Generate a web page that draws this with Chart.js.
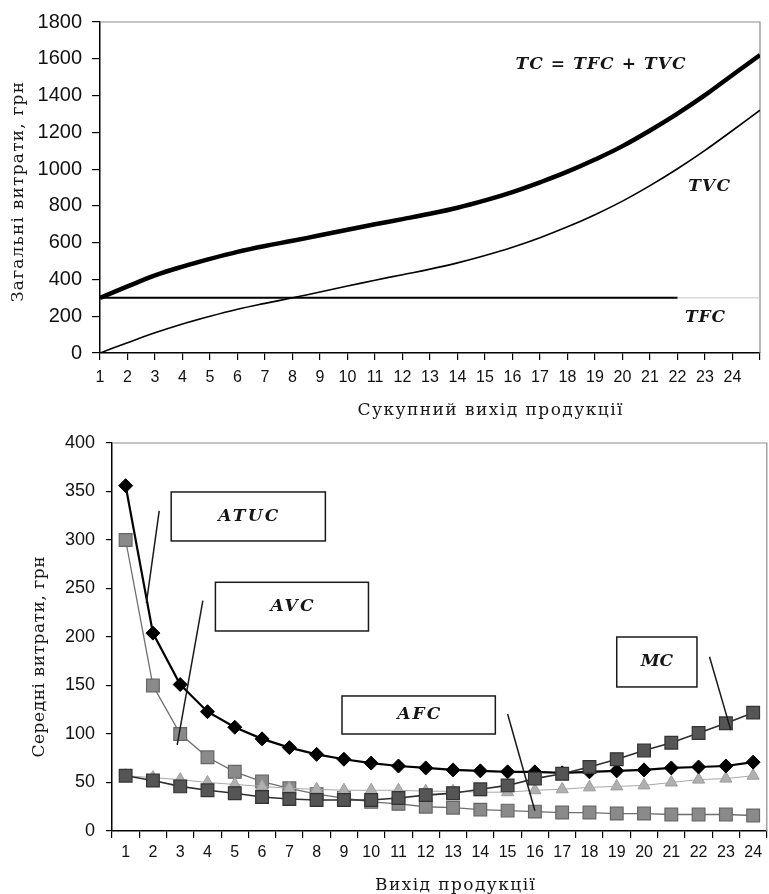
<!DOCTYPE html>
<html>
<head>
<meta charset="utf-8">
<script src="https://cdn.jsdelivr.net/npm/chart.js@4.4.1/dist/chart.umd.min.js"></script>
<style>
    html, body { margin: 0; padding: 0; background: #fff; overflow: hidden; }
    #wrap { position: relative; width: 769px; height: 894px; overflow: hidden; }
    #totalCanvas { position: absolute; left: 0; top: 0; }
    #avgCanvas { position: absolute; left: 0; top: 420px; }
</style>
</head>
<body>
<div id="wrap">
    <canvas id="totalCanvas" width="769" height="420"></canvas>
    <canvas id="avgCanvas" width="777" height="474"></canvas>
</div>
<script>
// --- top chart: total costs ---
const totalQ = [1, 2, 3, 4, 5, 6, 7, 8, 9, 10, 11, 12, 13, 14, 15, 16, 17, 18, 19, 20, 21, 22, 23, 24, 25];
const tvc = [0, 56, 110, 158, 200, 238, 270, 300, 332, 364, 396, 426, 456, 490, 530, 575, 627, 686, 752, 826, 910, 1002, 1102, 1210, 1320];
const tc = [300, 362, 422, 470, 512, 550, 582, 610, 640, 670, 700, 728, 757, 790, 830, 875, 928, 986, 1052, 1125, 1210, 1302, 1402, 1512, 1620];
const tfcQ = [1, 2, 3, 4, 5, 6, 7, 8, 9, 10, 11, 12, 13, 14, 15, 16, 17, 18, 19, 20, 21, 22];
const tfc = [300, 300, 300, 300, 300, 300, 300, 300, 300, 300, 300, 300, 300, 300, 300, 300, 300, 300, 300, 300, 300, 300];
const tfcTailQ = [22, 25];
const tfcTail = [300, 300];

// --- bottom chart: average costs ---
const avgQ = ['1', '2', '3', '4', '5', '6', '7', '8', '9', '10', '11', '12', '13', '14', '15', '16', '17', '18', '19', '20', '21', '22', '23', '24'];
const atc = [356, 204, 151, 123, 107, 95, 86, 79, 74, 70, 67, 65, 63, 62, 61, 61, 60, 61, 62, 63, 65, 66, 67, 71];
const afc = [300, 150, 100, 76, 61, 51, 44, 38, 34, 30, 28, 25, 24, 22, 21, 20, 19, 19, 18, 18, 17, 17, 17, 16];
const avc = [57, 55, 53, 50, 48, 46, 44, 43, 42, 42, 42, 41, 41, 40, 40, 42, 43, 45, 46, 47, 50, 53, 54, 57];
const mc = [57, 52, 46, 42, 39, 35, 33, 32, 32, 32, 34, 37, 39, 43, 47, 54, 59, 66, 74, 83, 91, 101, 111, 122];

const toPoints = (xs, ys) => xs.map((x, i) => ({ x: x, y: ys[i] }));

const TICK_FONT = 'Liberation Sans';
const TITLE_FONT = 'DejaVu Serif';
const NOTE_FONT = 'italic bold 17px ' + TITLE_FONT;

function drawText(ctx, t) {
    ctx.save();
    ctx.font = t.font;
    ctx.fillStyle = '#161616';
    ctx.textAlign = 'center';
    ctx.textBaseline = 'middle';
    ctx.translate(t.cx, t.cy);
    if (t.rotate) ctx.rotate(-Math.PI / 2);
    const n = [...t.text].length;
    let shift = 0;
    if (t.width && n > 1 && 'letterSpacing' in ctx) {
        const sp = Math.max(0, (t.width - ctx.measureText(t.text).width) / (n - 1));
        ctx.letterSpacing = sp.toFixed(2) + 'px';
        shift = sp / 2;
    }
    ctx.fillText(t.text, shift, 0);
    ctx.restore();
}

// frame, note boxes and text labels
const costText = {
    id: 'costText',
    beforeDatasetsDraw(chart) {
        const { ctx, chartArea: a } = chart;
        ctx.save();
        ctx.strokeStyle = '#8c8c8c';
        ctx.lineWidth = 1.2;
        ctx.beginPath();
        ctx.moveTo(a.left, a.top);
        ctx.lineTo(a.right, a.top);
        ctx.lineTo(a.right, a.bottom);
        ctx.stroke();
        ctx.restore();
    },
    afterDraw(chart, args, opts) {
        const ctx = chart.ctx;
        const xs = chart.scales.x, ys = chart.scales.y;
        (opts.boxes || []).forEach(b => {
            const x0 = xs.getPixelForValue(b.x0), x1 = xs.getPixelForValue(b.x1);
            const y0 = ys.getPixelForValue(b.y0), y1 = ys.getPixelForValue(b.y1);
            ctx.save();
            ctx.strokeStyle = '#1a1a1a';
            ctx.lineWidth = 1.5;
            ctx.fillStyle = '#fff';
            ctx.fillRect(x0, y0, x1 - x0, y1 - y0);
            ctx.strokeRect(x0, y0, x1 - x0, y1 - y0);
            ctx.beginPath();
            ctx.moveTo(xs.getPixelForValue(b.p[0]), ys.getPixelForValue(b.p[1]));
            ctx.lineTo(xs.getPixelForValue(b.p[2]), ys.getPixelForValue(b.p[3]));
            ctx.stroke();
            ctx.restore();
            drawText(ctx, {
                text: b.text, font: NOTE_FONT, width: b.w,
                cx: (x0 + x1) / 2, cy: (y0 + y1) / 2
            });
        });
        (opts.labels || []).forEach(l => {
            drawText(ctx, {
                text: l.text, font: NOTE_FONT, width: l.w,
                cx: xs.getPixelForValue(l.x), cy: ys.getPixelForValue(l.y)
            });
        });
        (opts.titles || []).forEach(t => drawText(ctx, Object.assign({ font: '17px ' + TITLE_FONT }, t)));
    }
};

function axisBase(tickLen, pad, size) {
    return {
        border: { display: true, color: '#000', width: 1.5 },
        grid: { display: true, drawOnChartArea: false, drawTicks: true, tickLength: tickLen, color: '#000', lineWidth: 1.2 },
        ticks: { color: '#111', padding: pad, font: { family: TICK_FONT, size: size }, autoSkip: false, maxRotation: 0 }
    };
}

// top chart
const topX = axisBase(7, 8, 16);
topX.type = 'linear';
topX.min = 1;
topX.max = 25;
topX.ticks.stepSize = 1;
topX.ticks.maxTicksLimit = 40;
topX.ticks.callback = v => (v === 25 ? '' : String(v));
topX.afterFit = s => { s.height = 67; };

const topY = axisBase(8, 10, 20);
topY.min = 0;
topY.max = 1800;
topY.ticks.stepSize = 200;
topY.ticks.callback = v => String(v);
topY.afterFit = s => { s.width = 100; };

new Chart(document.getElementById('totalCanvas'), {
    type: 'line',
    data: {
        datasets: [
            { label: 'TC', data: toPoints(totalQ, tc), borderColor: '#000', borderWidth: 4.5, tension: 0.4, pointRadius: 0 },
            { label: 'TVC', data: toPoints(totalQ, tvc), borderColor: '#000', borderWidth: 1.6, tension: 0.4, pointRadius: 0 },
            { label: 'TFC', data: toPoints(tfcQ, tfc), borderColor: '#000', borderWidth: 2, pointRadius: 0 },
            { label: 'TFC tail', data: toPoints(tfcTailQ, tfcTail), borderColor: '#c4c4c4', borderWidth: 1, pointRadius: 0 }
        ]
    },
    options: {
        responsive: false,
        animation: false,
        events: [],
        layout: { padding: { top: 19, right: 9, left: 0, bottom: 0 } },
        scales: { x: topX, y: topY },
        plugins: {
            legend: { display: false },
            tooltip: { enabled: false },
            costText: {
                labels: [
                    { text: 'TC = TFC + TVC', x: 19.2, y: 1568, w: 170 },
                    { text: 'TVC', x: 23.15, y: 905, w: 42 },
                    { text: 'TFC', x: 23.0, y: 194, w: 40 }
                ],
                titles: [
                    { text: 'Сукупний вихід продукції', cx: 490, cy: 411, width: 265 },
                    { text: 'Загальні витрати, грн', cx: 19, cy: 192, width: 220, rotate: true }
                ]
            }
        }
    },
    plugins: [costText]
});

// bottom chart
const botX = axisBase(7, 5, 16);
botX.type = 'category';
botX.offset = true;
botX.grid.offset = true;
botX.afterFit = s => { s.height = 63; };

const botY = axisBase(6, 11, 18);
botY.min = 0;
botY.max = 400;
botY.ticks.stepSize = 50;
botY.afterFit = s => { s.width = 112; };

new Chart(document.getElementById('avgCanvas'), {
    type: 'line',
    data: {
        labels: avgQ,
        datasets: [
            { label: 'MC', data: mc, order: 0, borderColor: '#2e2e2e', borderWidth: 1.6,
              pointStyle: 'rect', pointRadius: 9, pointBackgroundColor: '#555', pointBorderColor: '#333', pointBorderWidth: 1.2 },
            { label: 'ATC', data: atc, order: 1, borderColor: '#000', borderWidth: 2.2,
              pointStyle: 'rectRot', pointRadius: 7, pointBackgroundColor: '#000', pointBorderColor: '#000', pointBorderWidth: 1 },
            { label: 'AVC', data: avc, order: 2, borderColor: '#a8a8a8', borderWidth: 1,
              pointStyle: 'triangle', pointRadius: 7, pointBackgroundColor: '#b0b0b0', pointBorderColor: '#9c9c9c', pointBorderWidth: 1 },
            { label: 'AFC', data: afc, order: 3, borderColor: '#6e6e6e', borderWidth: 1.3,
              pointStyle: 'rect', pointRadius: 9, pointBackgroundColor: '#8a8a8a', pointBorderColor: '#666', pointBorderWidth: 1.2 }
        ]
    },
    options: {
        responsive: false,
        animation: false,
        events: [],
        layout: { padding: { top: 23, right: 2.6, left: 0, bottom: 0 } },
        scales: { x: botX, y: botY },
        plugins: {
            legend: { display: false },
            tooltip: { enabled: false },
            costText: {
                boxes: [
                    { text: 'ATUC', w: 60, x0: 1.67, x1: 7.32, y0: 349.5, y1: 299, p: [1.23, 330, 0.76, 235] },
                    { text: 'AVC', w: 43, x0: 3.29, x1: 8.9, y0: 256.4, y1: 206.2, p: [2.83, 237.4, 1.89, 88.7] },
                    { text: 'AFC', w: 43, x0: 7.93, x1: 13.55, y0: 139.2, y1: 100, p: [14.0, 120.6, 15.0, 20.9] },
                    { text: 'MC', w: 32, x0: 18.0, x1: 20.94, y0: 200, y1: 148.5, p: [21.4, 179.7, 22.18, 104] }
                ],
                titles: [
                    { text: 'Середні витрати, грн', cx: 40, cy: 237, width: 201, rotate: true },
                    { text: 'Вихід продукції', cx: 455, cy: 466, width: 160 }
                ]
            }
        }
    },
    plugins: [costText]
});
</script>
</body>
</html>
